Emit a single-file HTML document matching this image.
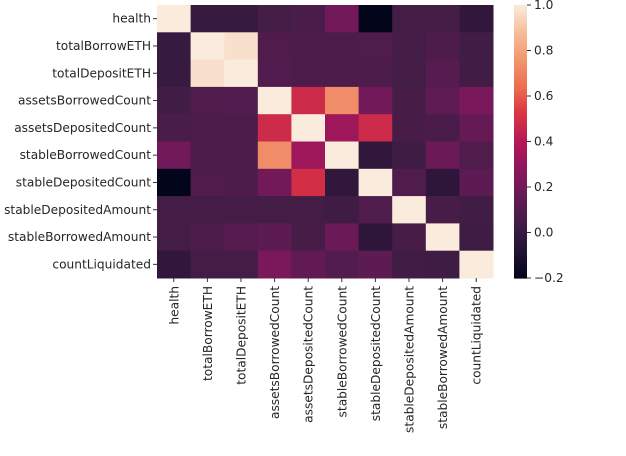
<!DOCTYPE html>
<html><head><meta charset="utf-8"><style>
html,body{margin:0;padding:0;background:#fff;width:626px;height:456px;overflow:hidden}
svg text{font-family:"DejaVu Sans","Liberation Sans",sans-serif;font-size:12.2px;fill:#262626}
</style></head><body>
<svg id="chart" width="626" height="456" xmlns="http://www.w3.org/2000/svg"></svg>
<script>
const labels = ["health","totalBorrowETH","totalDepositETH","assetsBorrowedCount","assetsDepositedCount","stableBorrowedCount","stableDepositedCount","stableDepositedAmount","stableBorrowedAmount","countLiquidated"];
const row0 = [1, 0.0, 0.0, 0.05, 0.07, 0.2, -0.2, 0.05, 0.05, -0.03];
const row1 = [0.0, 1, 0.97, 0.09, 0.08, 0.08, 0.09, 0.05, 0.08, 0.04];
const row2 = [0.0, 0.97, 1, 0.1, 0.08, 0.08, 0.08, 0.05, 0.11, 0.04];
const row3 = [0.04, 0.09, 0.1, 1, 0.48, 0.73, 0.2, 0.06, 0.14, 0.22];
const row4 = [0.07, 0.08, 0.08, 0.48, 1, 0.33, 0.48, 0.06, 0.07, 0.16];
const row5 = [0.2, 0.08, 0.08, 0.73, 0.33, 1, -0.03, 0.03, 0.18, 0.09];
const row6 = [-0.2, 0.09, 0.08, 0.2, 0.5, -0.03, 1, 0.09, -0.04, 0.13];
const row7 = [0.05, 0.05, 0.05, 0.05, 0.05, 0.03, 0.09, 1, 0.06, 0.04];
const row8 = [0.05, 0.08, 0.11, 0.13, 0.06, 0.18, -0.04, 0.06, 1, 0.03];
const row9 = [-0.03, 0.05, 0.05, 0.22, 0.15, 0.1, 0.13, 0.04, 0.03, 1];
const matrix = [row0,row1,row2,row3,row4,row5,row6,row7,row8,row9];
const cbTicks = [-0.2, 0.0, 0.2, 0.4, 0.6, 0.8, 1.0];
const vmin = -0.2, vmax = 1.0;

const stops = [[3,5,26],[35,19,52],[65,29,69],[101,26,86],[141,22,94],[181,24,86],[216,52,68],[235,110,80],[242,150,110],[246,190,154],[250,235,221]];
function rocket(v){
  let t = Math.max(0, Math.min(1, (v - vmin)/(vmax - vmin))) * 10;
  const i = Math.min(9, Math.floor(t)), f = t - i;
  const a = stops[i], b = stops[i+1];
  return `rgb(${a.map((c,k)=>Math.round(c+(b[k]-c)*f)).join(',')})`;
}
const svg = document.getElementById('chart');
const NS = "http://www.w3.org/2000/svg";
const X0 = 157, Y0 = 5, W = 336, H = 273;
const cw = W/labels.length, ch = H/labels.length;
const xPos = i => X0 + i*cw, yPos = i => Y0 + i*ch;
function el(tag, attrs){ const e = document.createElementNS(NS, tag); for (const k in attrs) e.setAttribute(k, attrs[k]); svg.appendChild(e); return e; }

matrix.forEach((row, r) => row.forEach((v, c) => {
  const e = el('rect', {x: xPos(c), y: yPos(r), width: cw+0.5, height: ch+0.5, fill: rocket(v)});
  
  
}));
labels.forEach((lab, i) => {
  const yc = yPos(i) + ch/2;
  el('line', {x1: X0-4, x2: X0, y1: yc, y2: yc, stroke: '#333', 'stroke-width': 1});
  const t = el('text', {x: X0-6, y: yc+4, 'text-anchor': 'end'});
  t.textContent = lab;
  
  
  const xc = xPos(i) + cw/2;
  el('line', {x1: xc, x2: xc, y1: Y0+H, y2: Y0+H+4, stroke: '#333', 'stroke-width': 1});
  const tx = el('text', {x: 0, y: 0, 'text-anchor': 'end', transform: `translate(${xc+4.5},${Y0+H+8}) rotate(-90)`});
  tx.textContent = lab;
  
  
});
const CX = 514, CW = 13, CY0 = 5, CH = 273;
const cbY = v => CY0 + (vmax - v)/(vmax - vmin)*CH;
for (let k = 0; k < 120; k++) {
  const v = vmax - (k+0.5)/120*(vmax - vmin);
  el('rect', {x: CX, y: CY0 + k*CH/120, width: CW, height: CH/120 + 0.6, fill: rocket(v)});
}
const cb = el('rect', {x: CX, y: CY0, width: CW, height: CH, fill: 'none'});


cbTicks.forEach(v => {
  const y = cbY(v);
  el('line', {x1: CX+CW, x2: CX+CW+4, y1: y, y2: y, stroke: '#333', 'stroke-width': 1});
  const t = el('text', {x: CX+CW+7, y: y+4});
  t.textContent = v < 0 ? '\u2212' + Math.abs(v).toFixed(1) : v.toFixed(1);
  
  
});
</script>
</body></html>
